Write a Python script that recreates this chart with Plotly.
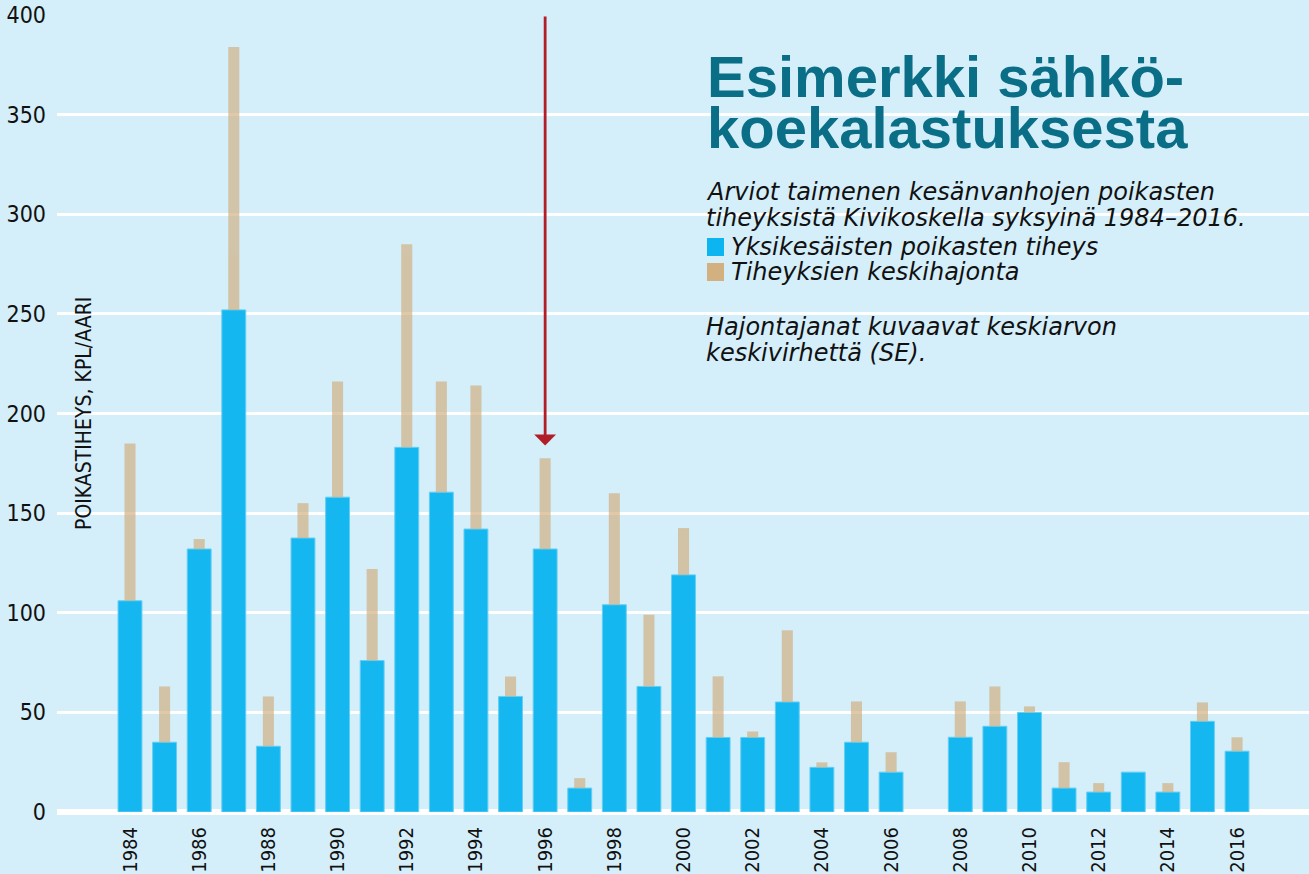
import plotly.graph_objects as go

# ---------------- data ----------------
years = list(range(1984, 2017))
density = [106, 35, 132, 252, 33, 137.5, 158, 76, 183, 160.5, 142, 58, 132, 12, 104, 63, 119,
           37.4, 37.4, 55.2, 22.4, 35, 20, None, 37.5, 43, 50, 12, 10, 20, 10, 45.5, 30.5]
se = [79, 28, 5, 132, 25, 17.5, 58, 46, 102, 55.5, 72, 10, 45.5, 5, 56, 36, 23.5,
      30.7, 3, 36, 2.5, 20.5, 10, None, 18, 20, 3, 13, 4.5, 0, 4.5, 9.5, 7]
tick_years = list(range(1984, 2017, 2))
y_ticks = [0, 50, 100, 150, 200, 250, 300, 350, 400]
arrow_year = 1996
arrow_tip = 184
arrow_tail = 400

# ---------------- styling ----------------
BG = "#d4eefa"
BLUE = "#0db5f0"
TAN = "#d2b080"
TITLE_C = "#0a6e86"
NARROW = "Liberation Sans Narrow, DejaVu Sans Condensed, Arial Narrow, sans-serif"
SANS = "Liberation Sans, Arial, sans-serif"
WIDE_IT = "DejaVu Sans, Verdana, sans-serif"

W, H = 1309, 874
ML, MR, MT, MB = 57, 0, 15, 62
PW, PH = W - ML - MR, H - MT - MB


def px(xp):
    return (xp - ML) / PW


def py(yp):
    return (H - MB - yp) / PH


fig = go.Figure()
fig.add_trace(go.Bar(
    x=years, y=density, width=0.69, marker=dict(color=BLUE, line=dict(color="#5fcdf3", width=1)),
    opacity=0.96, name="Yksikesäisten poikasten tiheys", showlegend=False))
fig.add_trace(go.Bar(
    x=years, y=se, base=density, width=0.32, marker=dict(color=TAN, line=dict(width=0)),
    opacity=0.68, name="Tiheyksien keskihajonta", showlegend=False))

fig.update_layout(
    width=W, height=H, barmode="overlay",
    paper_bgcolor=BG, plot_bgcolor=BG,
    margin=dict(l=ML, r=MR, t=MT, b=MB, pad=0, autoexpand=False),
    font=dict(family=NARROW, color="#111111"),
)
fig.update_xaxes(
    range=[1981.89, 2018.08], tickmode="array", tickvals=tick_years,
    ticktext=[str(y) for y in tick_years], tickangle=-90, automargin=False,
    tickfont=dict(family=NARROW, size=20, color="#111111"),
    showgrid=False, zeroline=False, showline=False, ticks="", ticklabelstandoff=10,
)
fig.update_yaxes(
    range=[0, 400], tickmode="array", tickvals=y_ticks, automargin=False,
    tickfont=dict(family=NARROW, size=23, color="#111111"),
    showgrid=True, gridcolor="white", gridwidth=2.5,
    zeroline=True, zerolinecolor="white", zerolinewidth=6,
    showline=False, ticks="", ticklabelstandoff=10,
)

ann = []
# y axis title
ann.append(dict(x=px(84), y=py(414), xref="paper", yref="paper", text="POIKASTIHEYS, KPL/AARI",
                textangle=-90, showarrow=False, xanchor="center", yanchor="middle",
                font=dict(family=NARROW, size=21, color="#111111")))
# arrow
ann.append(dict(x=arrow_year, y=arrow_tip, ax=arrow_year, ay=arrow_tail, xref="x", yref="y",
                axref="x", ayref="y", text="", showarrow=True, arrowhead=1, arrowsize=1.3,
                arrowwidth=2.8, arrowcolor="#b21e28"))

# title
for txt, yc in [("Esimerkki sähkö-", 77), ("koekalastuksesta", 128)]:
    ann.append(dict(x=px(705), y=py(yc), xref="paper", yref="paper", text=f"<b>{txt}</b>",
                    showarrow=False, xanchor="left", yanchor="middle",
                    font=dict(family=SANS, size=58, color=TITLE_C)))
# subtitle / legend / note lines
lines = [
    ("Arviot taimenen kesänvanhojen poikasten", 704, 192),
    ("tiheyksistä Kivikoskella syksyinä 1984–2016.", 704, 218),
    ("Yksikesäisten poikasten tiheys", 729, 247),
    ("Tiheyksien keskihajonta", 729, 272),
    ("Hajontajanat kuvaavat keskiarvon", 704, 327),
    ("keskivirhettä (SE).", 704, 353),
]
for txt, xl, yc in lines:
    ann.append(dict(x=px(xl), y=py(yc), xref="paper", yref="paper", text=txt,
                    showarrow=False, xanchor="left", yanchor="middle",
                    font=dict(family=WIDE_IT, size=24, color="#111111", style="italic")))
fig.update_layout(annotations=ann)

shapes = []
for col, y0 in [(BLUE, 238), (TAN, 263)]:
    shapes.append(dict(type="rect", xref="paper", yref="paper", x0=px(707), x1=px(724),
                       y0=py(y0 + 18), y1=py(y0), fillcolor=col, line=dict(width=0)))
fig.update_layout(shapes=shapes)

fig.write_html("out.html", config={"displayModeBar": False},
               post_script="document.body.style.margin='0';document.body.style.overflow='hidden';")
